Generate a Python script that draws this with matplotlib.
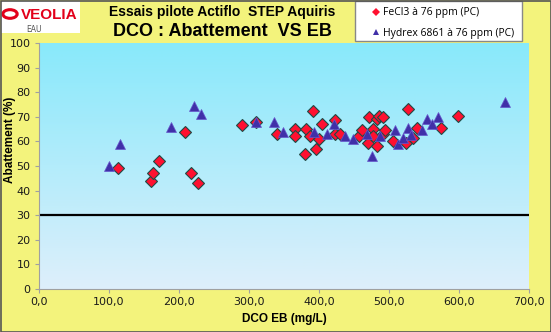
import matplotlib
matplotlib.use("Agg")
import matplotlib.pyplot as plt
import numpy as np
from matplotlib.patches import Rectangle, Circle

# FeCl3 à 76 ppm (PC) : DCO EB (mg/L), abattement (%)
fecl3_eb = [113, 160, 163, 171, 209, 217, 227, 290, 310, 340, 366, 366, 380, 381,
            387, 391, 396, 400, 404, 423, 423, 430, 457, 461, 470, 472, 477, 477,
            483, 483, 486, 491, 491, 494, 505, 524, 527, 534, 540, 574, 599]
fecl3_abat = [49, 44, 47, 52, 64, 47, 43, 66.5, 68, 63, 65, 62, 55, 65,
              62, 72.5, 57, 61, 67, 68.5, 63, 63, 62, 64.5, 59.5, 70, 65, 62,
              69, 58, 70.5, 70, 63, 64.5, 60, 59.5, 73, 61.5, 65.5, 65.5, 70.5]

# Hydrex 6861 à 76 ppm (PC)
hydrex_eb = [100, 115, 189, 222, 231, 310, 336, 349, 393, 411, 422, 437, 448,
             468, 475, 487, 508, 513, 520, 527, 532, 547, 554, 561, 570, 666]
hydrex_abat = [50, 59, 66, 74.5, 71, 68, 68, 64, 64, 63, 67, 62, 61,
               63, 54, 62, 64.5, 59, 61.5, 65.5, 62.5, 64.5, 69, 67, 70, 76]

seuil = 30
x_ticks = np.arange(0, 701, 100)
y_ticks = np.arange(0, 101, 10)

W, H = 551, 332
fig = plt.figure(figsize=(W / 100, H / 100), dpi=100)
fig.patch.set_facecolor("#F3F37C")

ax = fig.add_axes([39 / W, 1 - 289 / H, 490 / W, 246 / H])
ax.set_xlim(0, 700)
ax.set_ylim(0, 100)

# fond dégradé
top = np.array([136, 233, 251]) / 255
bot = np.array([222, 239, 251]) / 255
t = np.linspace(0, 1, 256)[:, None]
grad = (top * (1 - t) + bot * t)[:, None, :]
ax.imshow(grad, extent=[0, 1, 0, 1], transform=ax.transAxes, aspect="auto", zorder=0)

ax.axhline(seuil, color="black", lw=1.6, zorder=2)

h1, = ax.plot(fecl3_eb, fecl3_abat, ls="none", marker="D", ms=5.8, mfc="#FF1030",
              mec="#1F4A45", mew=0.8, zorder=3)
h2, = ax.plot(hydrex_eb, hydrex_abat, ls="none", marker="^", ms=7, mfc="#4030A8",
              mec="#6655CC", mew=0.5, zorder=3)

ax.set_xticks(x_ticks)
ax.set_xticklabels([f"{v:.1f}".replace(".", ",") for v in x_ticks])
ax.set_yticks(y_ticks)
for s in ["top", "right"]:
    ax.spines[s].set_visible(False)
for s in ["left", "bottom"]:
    ax.spines[s].set_color("#A0A0A0")
ax.tick_params(length=3, color="#A0A0A0", labelsize=8, pad=3, labelcolor="#1a1a1a")

ax.set_xlabel("DCO EB (mg/L)", fontsize=8.5, fontweight="bold",
              family="Liberation Sans", labelpad=4)
fig.text(10 / W, 1 - 140 / H, "Abattement (%)", rotation=90, ha="center", va="center",
         fontsize=8.5, fontweight="bold", family="Liberation Sans")

# titres
fig.text(222 / W, 1 - 12 / H, "Essais pilote Actiflo  STEP Aquiris", ha="center",
         va="center", fontsize=10, fontweight="bold", family="Liberation Sans")
fig.text(222 / W, 1 - 31 / H, "DCO : Abattement  VS EB", ha="center",
         va="center", fontsize=13, fontweight="bold", family="Liberation Sans")

# logo
fig.patches.append(Rectangle((1 / W, 1 - 33 / H), 79 / W, 32 / H, transform=fig.transFigure,
                             facecolor="white", edgecolor="none"))
fig.patches.append(Circle((10 / W, 1 - 14 / H), 0.013, transform=fig.transFigure,
                          facecolor="none", edgecolor="#E2001A", lw=2.2))
fig.text(21 / W, 1 - 15 / H, "VEOLIA", ha="left", va="center", fontsize=11,
         fontweight="bold", color="#E2001A", family="Liberation Sans")
fig.text(26 / W, 1 - 29 / H, "EAU", ha="left", va="center", fontsize=5.5, color="#555555")

# légende
fig.patches.append(Rectangle((355 / W, 1 - 41 / H), 167 / W, 40 / H, transform=fig.transFigure,
                             facecolor="white", edgecolor="#888888", lw=1))
leg = fig.legend([h1, h2], ["FeCl3 à 76 ppm (PC)", "Hydrex 6861 à 76 ppm (PC)"],
                 loc="upper left", bbox_to_anchor=(362 / W, 1 + 2 / H),
                 frameon=False, handletextpad=0.3, handlelength=0.8, labelspacing=0.9,
                 prop={"family": "Open Sans", "size": 7.5})
for h in leg.legend_handles:
    h.set_markersize(4.5)
    h.set_markeredgewidth(0)

# bordure
fig.patches.append(Rectangle((0.5 / W, 0.5 / H), (W - 1) / W, (H - 1) / H,
                             transform=fig.transFigure, facecolor="none",
                             edgecolor="#555555", lw=1.2))

fig.savefig("out.png", dpi=100)
